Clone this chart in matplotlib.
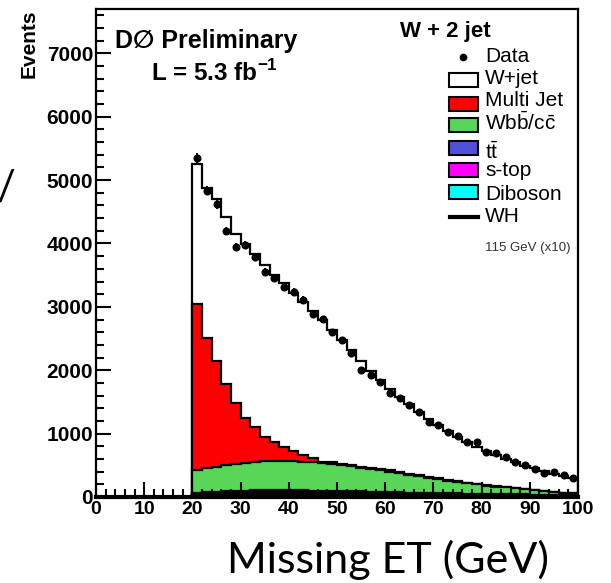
import matplotlib
matplotlib.use("Agg")
import matplotlib.pyplot as plt
from matplotlib.patches import Rectangle
import numpy as np

plt.rcParams['font.family'] = ['Liberation Sans', 'DejaVu Sans']
plt.rcParams['mathtext.fontset'] = 'custom'
plt.rcParams['mathtext.rm'] = 'Liberation Sans'
plt.rcParams['mathtext.bf'] = 'Liberation Sans:bold'

# bins of 2 GeV from 20 to 100
edges = np.arange(20, 101, 2)

data = [5350, 4830, 4620, 4200, 3950, 3980, 3780, 3550, 3460, 3320,
        3240, 3110, 2890, 2810, 2600, 2480, 2270, 2000, 1930, 1820,
        1640, 1560, 1450, 1340, 1185, 1140, 1030, 960, 870, 870,
        710, 690, 630, 550, 505, 440, 380, 395, 350, 300]

# stack tops
wjet_top = [5250, 4880, 4700, 4420, 4150, 3990, 3830, 3660, 3510, 3370,
            3220, 3080, 2940, 2790, 2640, 2480, 2320, 2140, 1990, 1850,
            1710, 1580, 1460, 1340, 1230, 1130, 1040, 950, 870, 790,
            720, 660, 600, 545, 495, 450, 410, 370, 335, 300]
multijet_top = [3050, 2510, 2150, 1790, 1490, 1250, 1110, 950, 870, 790,
                730, 660, 610, 560, 545, 525, 505, 480, 460, 440,
                420, 395, 370, 340, 315, 292, 270, 250, 228, 207,
                186, 170, 155, 139, 124, 108, 95, 83, 71, 61]
wbb_top = [420, 450, 480, 500, 520, 535, 550, 565, 570, 570,
           565, 560, 550, 540, 525, 505, 485, 460, 440, 420,
           400, 375, 350, 325, 300, 280, 260, 240, 220, 200,
           180, 165, 150, 135, 120, 105, 92, 80, 68, 58]

ttbar = [14, 16, 18, 20, 22, 23, 24, 25, 26, 26, 26, 26, 26, 25, 25, 24, 24, 23, 23, 22,
         22, 21, 21, 20, 20, 19, 19, 18, 18, 17, 17, 16, 16, 15, 15, 14, 14, 13, 13, 12]
stop = [6, 7, 8, 9, 9, 10, 10, 10, 10, 10, 10, 10, 9, 9, 9, 9, 8, 8, 8, 8,
        7, 7, 7, 7, 6, 6, 6, 6, 6, 5, 5, 5, 5, 5, 5, 4, 4, 4, 4, 4]
diboson = [45, 55, 60, 64, 66, 68, 70, 70, 70, 70, 69, 68, 66, 64, 62, 60, 58, 56, 54, 51,
           48, 45, 42, 40, 38, 36, 34, 32, 30, 28, 26, 24, 22, 21, 20, 19, 18, 17, 16, 15]
wh_x10 = [15, 20, 25, 28, 30, 32, 33, 34, 34, 34, 33, 32, 31, 30, 28, 27, 25, 24, 22, 21,
          20, 18, 17, 16, 15, 14, 13, 12, 11, 10, 10, 9, 8, 8, 7, 7, 6, 6, 5, 5]

legend_labels = ['W+jet', 'Multi Jet', r'Wb$\mathrm{\bar{b}}$/c$\mathrm{\bar{c}}$',
                 r't$\mathrm{\bar{t}}$', 's-top', 'Diboson']
legend_colors = ['white', '#ff0000', '#57d657', '#5050d8', '#ff00ff', '#00ffff']

W, H = 611, 583
fig = plt.figure(figsize=(W / 100, H / 100), dpi=100)
ax = fig.add_axes([96 / W, 1 - 497 / H, (578 - 96) / W, (497 - 9) / H])

stop_top = np.array(diboson) + np.array(stop)
tt_top = stop_top + np.array(ttbar)

lw = 1.6
ax.stairs(wjet_top, edges, fill=True, facecolor='white', edgecolor='black', linewidth=lw)
ax.stairs(multijet_top, edges, fill=True, facecolor=legend_colors[1], edgecolor='black', linewidth=lw)
ax.stairs(wbb_top, edges, fill=True, facecolor=legend_colors[2], edgecolor='black', linewidth=lw)
ax.stairs(tt_top, edges, fill=True, facecolor=legend_colors[3], edgecolor='black', linewidth=lw)
ax.stairs(stop_top, edges, fill=True, facecolor=legend_colors[4], edgecolor='black', linewidth=lw)
ax.stairs(diboson, edges, fill=True, facecolor=legend_colors[5], edgecolor='black', linewidth=lw)
ax.stairs(wh_x10, edges, color='black', linewidth=2.4)

centers = (edges[:-1] + edges[1:]) / 2
data = np.array(data)
ax.errorbar(centers, data, yerr=np.sqrt(data), fmt='o', color='black',
            ms=4.8, elinewidth=1.3, capsize=0)

ax.set_xlim(0, 100)
ax.set_ylim(0, 7700)
ax.set_xticks(np.arange(0, 101, 10))
ax.set_xticks(np.arange(0, 101, 2), minor=True)
ax.set_yticks(np.arange(0, 7001, 1000))
ax.set_yticks(np.arange(0, 7701, 200), minor=True)
ax.tick_params(which='both', direction='in', top=False, right=False, width=1.5)
ax.tick_params(which='major', length=11)
ax.tick_params(which='minor', length=6)
ax.tick_params(axis='y', labelsize=15, pad=2)
ax.tick_params(axis='x', labelsize=14, pad=3)
for lab in ax.get_xticklabels() + ax.get_yticklabels():
    lab.set_fontweight('bold')
for s in ['left', 'top', 'right']:
    ax.spines[s].set_linewidth(1.6)
ax.spines['bottom'].set_linewidth(3)

# overlay in pixel coordinates for texts and legend
ov = fig.add_axes([0, 0, 1, 1])
ov.set_xlim(0, W)
ov.set_ylim(H, 0)
ov.axis('off')
ov.patch.set_alpha(0)

ov.text(29, 10, 'Events', rotation=90, ha='center', va='top', fontsize=15, fontweight='bold')
ov.text(115, 41, 'D\u2205 Preliminary', ha='left', va='center', fontsize=18, fontweight='bold',
        family=['Liberation Sans', 'DejaVu Sans'])
ov.text(214, 73, r'L = 5.3 fb$^{\mathbf{-1}}$', ha='center', va='center', fontsize=17.5, fontweight='bold')

ov.text(445, 32, 'W + 2 jet', ha='center', va='center', fontsize=16, fontweight='bold')
ov.plot([463], [57], 'o', color='black', ms=4.5)
ov.text(485, 57, 'Data', ha='left', va='center', fontsize=15)
box_y = [80, 104, 125, 148, 170, 192]
text_y = [78, 101, 123, 152, 170, 195]
for lab, col, by, ty in zip(legend_labels, legend_colors, box_y, text_y):
    ov.add_patch(Rectangle((449, by - 7), 29, 14, facecolor=col, edgecolor='black', linewidth=1.5))
    ov.text(485, ty, lab, ha='left', va='center', fontsize=15)
ov.plot([450, 478], [217, 217], color='black', linewidth=3)
ov.text(485, 217, 'WH', ha='left', va='center', fontsize=15)
ov.text(485, 248, '115 GeV (x10)', ha='left', va='center', fontsize=9.5, color='#333333')

ov.text(227, 573, 'Missing ET (GeV)', ha='left', va='baseline', fontsize=31, family='Lato')
ov.text(6, 188, '/', ha='center', va='center', fontsize=30, family='Lato')

fig.savefig('out.png', dpi=100)
